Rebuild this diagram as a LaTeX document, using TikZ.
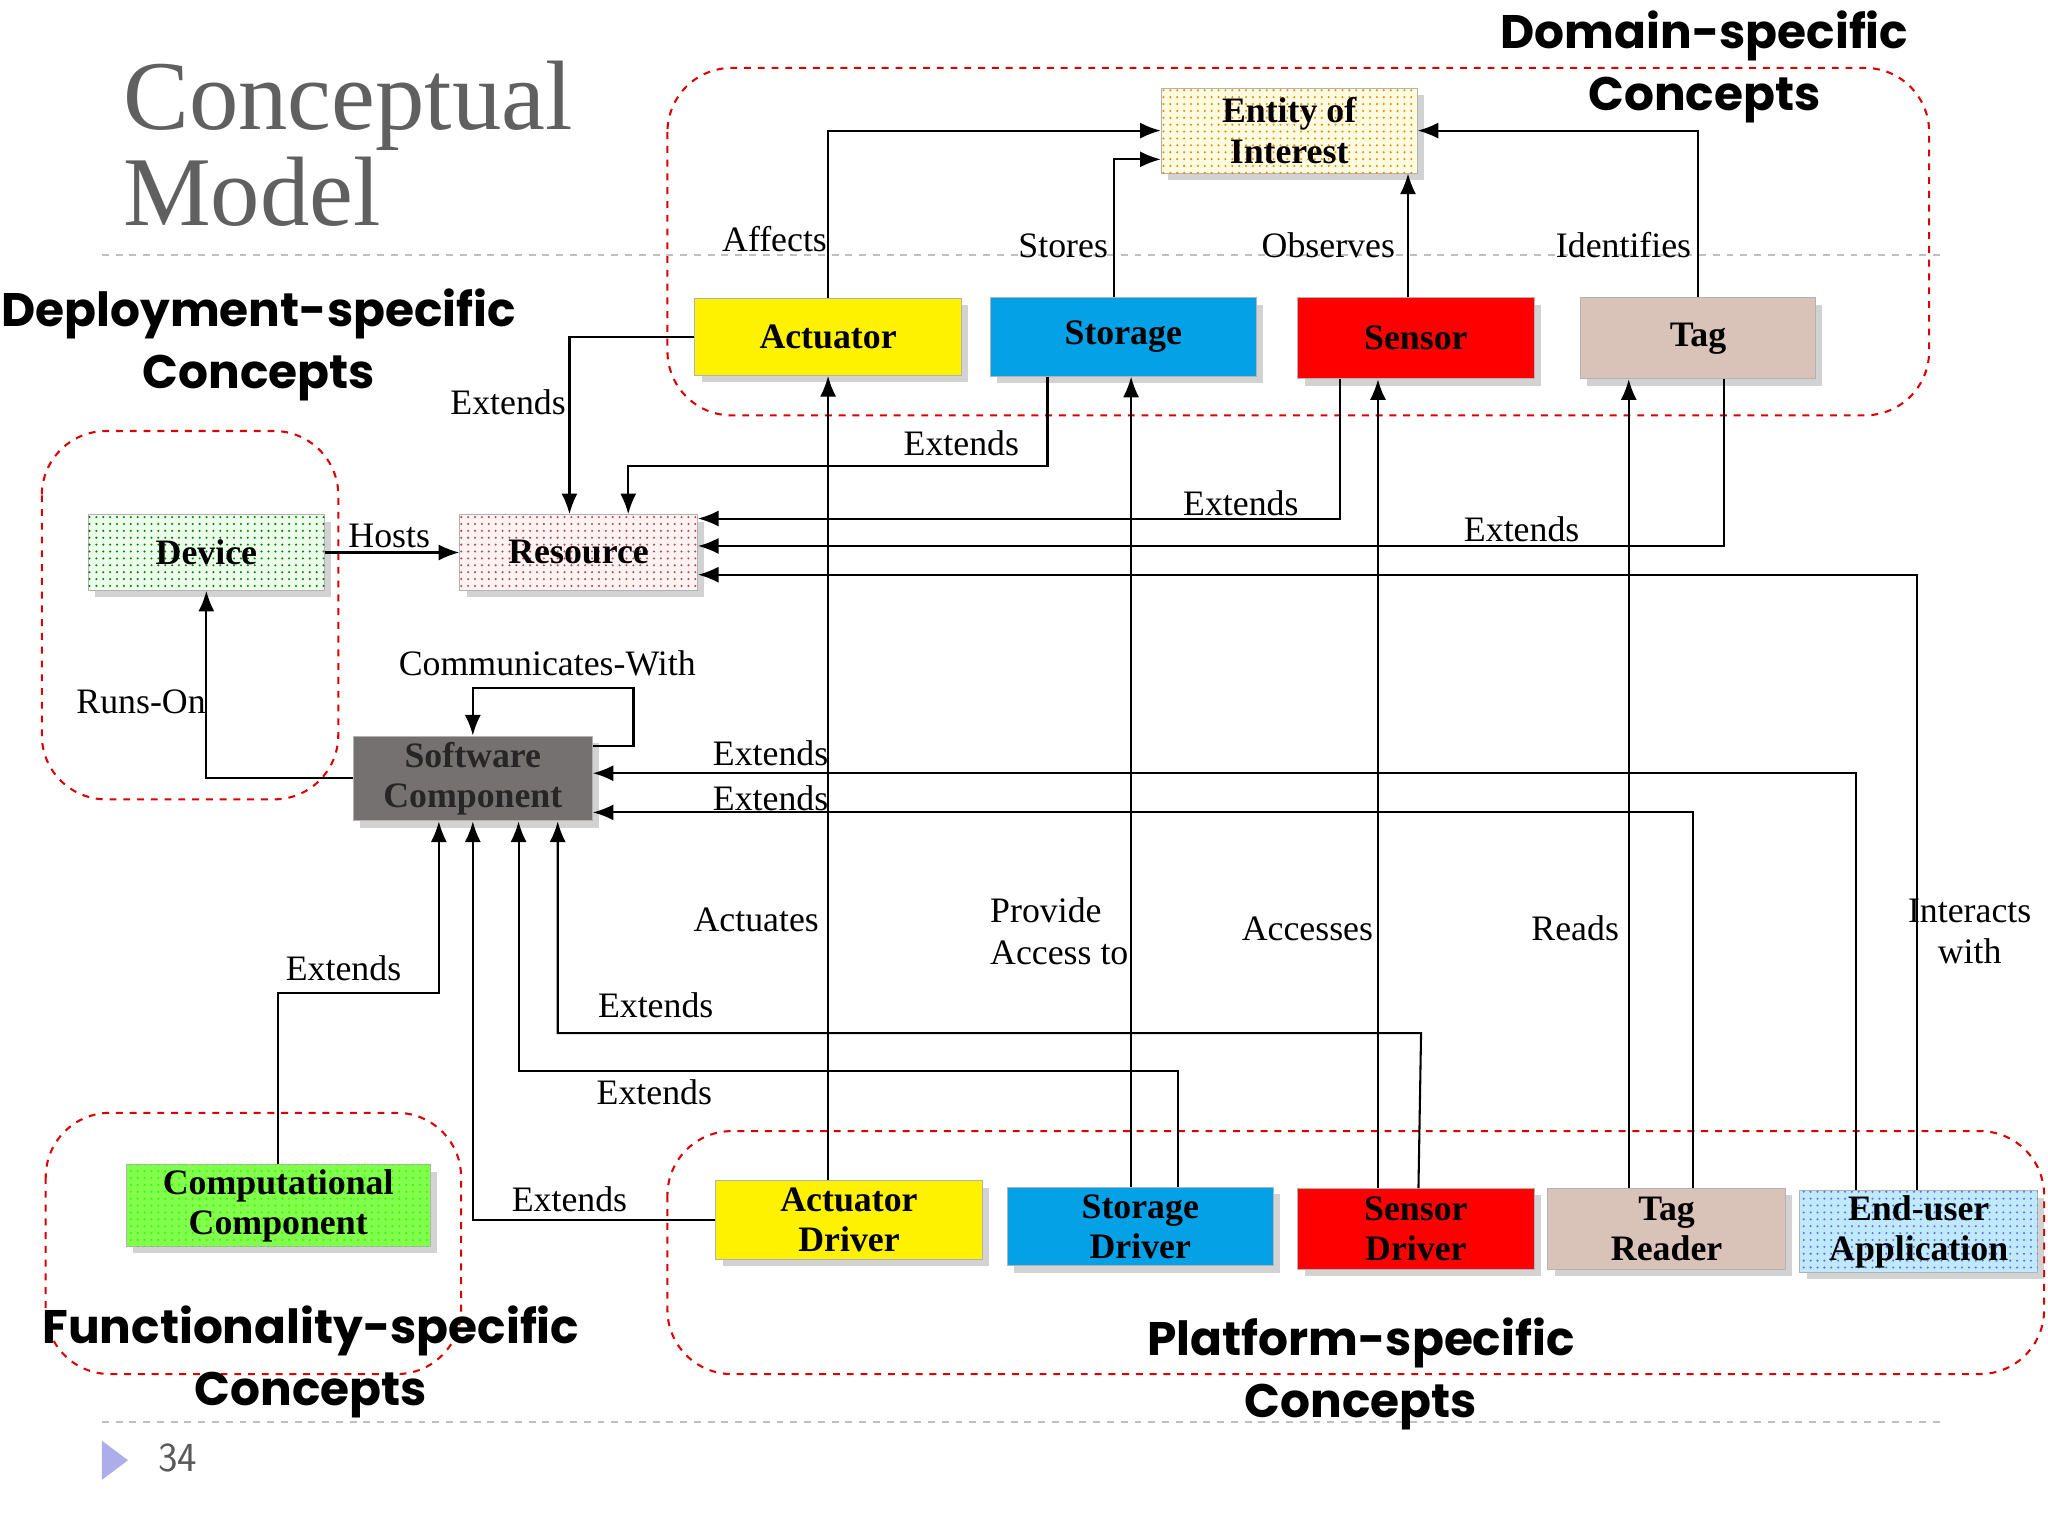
\documentclass[tikz,border=0pt]{standalone}
\usepackage{fontspec}
\setmainfont{Liberation Serif}
\newfontfamily\hsans{Poppins}
\usetikzlibrary{shadows,patterns,arrows.meta}
\begin{document}
\begin{tikzpicture}[x=0.02cm,y=-0.02cm,
 box/.style={draw=gray!60,minimum width=#1*0.02cm,align=center,font=\fontsize{15.6}{17.5}\selectfont\bfseries,inner sep=2pt,drop shadow={opacity=0.35,shadow xshift=3pt,shadow yshift=-3pt}},
 dots/.style={postaction={pattern=dots,pattern color=#1}},
 region/.style={draw=red!85!black,dashed,line width=0.9pt,rounded corners=28pt},
 ar/.style={-{Latex[length=9pt,width=7pt]},line width=0.9pt},
 lab/.style={font=\fontsize{15.6}{18}\selectfont,inner sep=1pt},
 head/.style={font=\hsans\bfseries\fontsize{20.5}{27}\selectfont,align=center}]
\useasboundingbox[fill=white] (0,0) rectangle (1568,1176);
% guide lines
\draw[gray!50,dashed,line width=0.8pt] (78,195) -- (1490,195);
\draw[gray!50,dashed,line width=0.8pt] (78,1089) -- (1490,1089);
% regions
\draw[region] (511,52) rectangle (1477,318);
\draw[region] (32,330) rectangle (259,612);
\draw[region] (35,852) rectangle (353,1052);
\draw[region] (511,866) rectangle (1565,1052);
% titles
\node[anchor=north west,text=gray!75!black,font=\fontsize{43}{42}\selectfont,align=left,inner sep=0pt] (title) at (94,46) {Conceptual\\Model};
\node[head] (hdom) at (1305,51) {Domain-specific\\Concepts};
\node[head] (hdep) at (198,264) {Deployment-specific\\Concepts};
\node[head] (hfun) at (238,1043) {Functionality-specific\\Concepts};
\node[head] (hpla) at (1042,1052) {Platform-specific\\Concepts};
\fill[gray!40!blue!40] (78,1103) -- (98,1118) -- (78,1133) -- cycle;
\node[font=\fontsize{18}{22}\selectfont\sffamily,text=gray!70!black] (pg) at (136,1116) {34};
% nodes
\node[box=196,minimum height=1.3cm,fill=yellow!12,dots=orange] (ent) at (987,100) {Entity of\\Interest};
\node[box=204,minimum height=1.18cm,fill=yellow] (act) at (634,258) {Actuator};
\node[box=204,minimum height=1.2cm,fill=cyan!90!blue] (sto) at (860,258) {Storage};
\node[box=181,minimum height=1.24cm,fill=red] (sen) at (1084,259) {Sensor};
\node[box=180,minimum height=1.24cm,fill={rgb,255:red,217;green,195;blue,185}] (tag) at (1300,259) {Tag};
\node[box=181,minimum height=1.16cm,fill=green!8,dots=green!50!black] (dev) at (158,423) {Device};
\node[box=182,minimum height=1.16cm,fill=red!5,dots=red!40!gray] (res) at (443,423) {Resource};
\node[box=183,minimum height=1.3cm,fill={rgb,255:red,118;green,113;blue,113},text=black!85] (sw) at (362,596) {Software\\Component};
\node[box=233,minimum height=1.2cm,fill=green!60!lime!70,dots=green!80!yellow] (cc) at (213,923) {Computational\\Component};
\node[box=204,minimum height=1.2cm,fill=yellow] (ad) at (650,934) {Actuator\\Driver};
\node[box=204,minimum height=1.2cm,fill=cyan!90!blue] (sd) at (873,939) {Storage\\Driver};
\node[box=181,minimum height=1.24cm,fill=red] (snd) at (1084,941) {Sensor\\Driver};
\node[box=182,minimum height=1.24cm,fill={rgb,255:red,217;green,195;blue,185}] (tr) at (1276,941) {Tag\\Reader};
\node[box=182,minimum height=1.24cm,fill=cyan!25,dots=blue!60] (eu) at (1469,943) {End-user\\Application};
% edges to entity
\draw[ar] (act.north) |- (ent.west |- 0,100);
\draw[ar] (sto.north -| 853,0) |- (ent.west |- 0,122);
\draw[ar] (sen.north -| 1078,0) -- (ent.south -| 1078,0);
\draw[ar] (tag.north) |- (ent.east |- 0,100);
\node[lab] (l1) at (593,183) {Affects};
\node[lab] (l2) at (814,188) {Stores};
\node[lab] (l3) at (1017,188) {Observes};
\node[lab] (l4) at (1243,188) {Identifies};
% extends to resource
\draw[ar] (act.west) -| (res.north -| 436,0);
\draw[ar] (sto.south -| 802,0) |- (481,357) -- (res.north -| 481,0);
\draw[ar] (sen.south -| 1026,0) |- (res.east |- 0,397);
\draw[ar] (tag.south -| 1320,0) |- (res.east |- 0,418);
\draw[ar] (eu.north -| 1468,0) |- (res.east |- 0,440);
\node[lab] (l5) at (389,308) {Extends};
\node[lab] (l6) at (736,339) {Extends};
\node[lab] (l7) at (950,385) {Extends};
\node[lab] (l8) at (1165,405) {Extends};
\node[lab,align=center] (l9) at (1508,713) {Interacts\\with};
% deployment
\draw[ar] (dev.east) -- (res.west);
\node[lab] (l10) at (298,410) {Hosts};
\draw[ar] (sw.west) -| (dev.south);
\node[lab] (l11) at (108,537) {Runs-On};
\draw[ar] (sw.east |- 0,571) -| (485,527) -| (sw.north);
\node[lab] (l12) at (419,508) {Communicates-With};
% extends to software
\draw[ar] (eu.north -| 1421,0) |- (sw.east |- 0,592);
\draw[ar] (tr.north -| 1296,0) |- (sw.east |- 0,622);
\node[lab] (l13) at (590,577) {Extends};
\node[lab] (l14) at (590,611) {Extends};
\draw[ar] (cc.north) |- (336,760) -- (sw.south -| 336,0);
\node[lab] (l15) at (263,741) {Extends};
\draw[ar] (ad.west) -| (sw.south);
\node[lab] (l16) at (436,918) {Extends};
\draw[ar] (sd.north -| 902,0) |- (397,820) -- (sw.south -| 397,0);
\node[lab] (l17) at (501,836) {Extends};
\draw[ar] (snd.north -| 1086,0) -- (1088,791) -- (427,791) -- (sw.south -| 427,0);
\node[lab] (l18) at (502,770) {Extends};
% drivers to domain
\draw[ar] (ad.north -| 634,0) -- (act.south);
\draw[ar] (sd.north -| 866,0) -- (sto.south -| 866,0);
\draw[ar] (snd.north -| 1055,0) -- (sen.south -| 1055,0);
\draw[ar] (tr.north -| 1247,0) -- (tag.south -| 1247,0);
\node[lab] (l19) at (579,704) {Actuates};
\node[lab,align=left] (l20) at (811,713) {Provide\\Access to};
\node[lab] (l21) at (1001,711) {Accesses};
\node[lab] (l22) at (1206,711) {Reads};
\end{tikzpicture}
\end{document}
